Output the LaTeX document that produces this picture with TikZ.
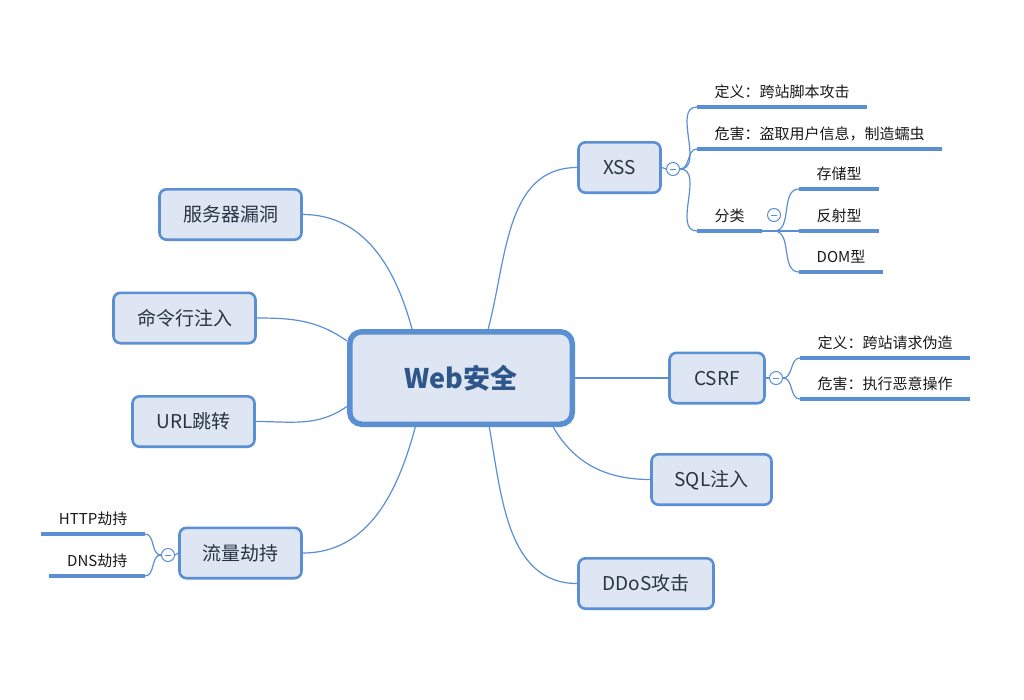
\documentclass[tikz,border=0pt]{standalone}
\usepackage{fontspec}
\newfontfamily\cjk{Noto Sans CJK SC}
\definecolor{mmline}{RGB}{91,143,212}
\definecolor{mmfill}{RGB}{221,230,242}
\definecolor{mmtext}{RGB}{40,52,68}
\definecolor{mmhead}{RGB}{47,86,138}

\begin{document}
\begin{tikzpicture}[x=1pt,y=1pt,
  topic/.style={draw=mmline,fill=mmfill,line width=2.6pt,rounded corners=7pt,text=mmtext,
    font=\cjk\fontsize{19}{22}\selectfont,minimum height=50.4pt,text height=16pt,text depth=1.4pt,inner xsep=0pt},
  root/.style={topic,line width=5.5pt,rounded corners=12pt,text=mmhead,
    font=\cjk\bfseries\fontsize{27}{30}\selectfont,minimum width=222.5pt,minimum height=92.5pt,text height=22pt,text depth=1pt},
  leaf/.style={inner xsep=17.5pt,inner ysep=0pt,minimum height=30pt,text height=12.6pt,text depth=1pt,
    font=\cjk\fontsize{15}{18}\selectfont,text=black!90},
  uline/.style={mmline,line width=4pt},
  link/.style={mmline,line width=1.2pt},
  fold/.style={circle,draw=mmline,fill=white,line width=1pt,minimum size=13pt,inner sep=0pt,
    path picture={\draw[mmline,line width=1pt] ([xshift=-3pt]path picture bounding box.center) -- ([xshift=3pt]path picture bounding box.center);}}]
\useasboundingbox (0,0) rectangle (1024,-699);
\node[root]                      (web)  at (461,-378)   {Web安全};
\node[topic,minimum width=82pt]  (xss)  at (619.5,-167.5) {XSS};
\node[topic,minimum width=142pt] (srv)  at (230.5,-214.5) {服务器漏洞};
\node[topic,minimum width=142pt] (cmd)  at (184.5,-318)   {命令行注入};
\node[topic,minimum width=122pt] (url)  at (193.5,-421.5) {URL跳转};
\node[topic,minimum width=122pt] (flow) at (240.5,-553)   {流量劫持};
\node[topic,minimum width=95pt]  (csrf) at (717,-378)     {CSRF};
\node[topic,minimum width=120pt] (sql)  at (711.5,-479.5) {SQL注入};
\node[topic,minimum width=135pt] (ddos) at (646,-583.5)   {DDoS攻击};
\node[leaf,anchor=south west] (xdef)  at (697,-107) {定义：跨站脚本攻击};
\node[leaf,anchor=south west] (xharm) at (697,-149) {危害：盗取用户信息，制造蠕虫};
\node[leaf,anchor=south west] (xcls)  at (697,-231) {分类};
\node[leaf,anchor=south west] (xsto)  at (799,-189) {存储型};
\node[leaf,anchor=south west] (xref)  at (799,-231) {反射型};
\node[leaf,anchor=south west] (xdom)  at (799,-272) {DOM型};
\node[leaf,anchor=south west] (cdef)  at (800,-358) {定义：跨站请求伪造};
\node[leaf,anchor=south west] (charm) at (800,-399) {危害：执行恶意操作};
\node[leaf,anchor=south east] (http)  at (145,-534) {HTTP劫持};
\node[leaf,anchor=south east] (dns)   at (145,-576) {DNS劫持};
\coordinate (xclsj) at (774,-231);
\foreach \n in {xdef,xharm,xcls,xsto,xref,xdom,cdef,charm,http,dns}
  \draw[uline] (\n.south west) -- (\n.south east);
\draw[link] (web.135) to[out=105,in=0]   (srv.east);
\draw[link] (web.61)  to[out=75,in=180]  (xss.west);
\draw[link] (web.162) to[out=145,in=0]   (cmd.east);
\draw[link] (web.194) to[out=215,in=0]   (url.east);
\draw[link] (web.227) to[out=255,in=0]   (flow.east);
\draw[link] (web.300) to[out=280,in=180] (ddos.west);
\draw[link] (web.332) to[out=300,in=180] (sql.west);
\draw[link] (web.east) -- (csrf.west);
\draw[link] (xcls.south east) -- (xref.south west);
\draw[link] (xclsj) to[out=0,in=180] (xsto.south west);
\draw[link] (xclsj) to[out=0,in=180] (xdom.south west);
\node[fold] (xssf)  at (673,-169) {};
\node[fold] (csrff) at (776,-378) {};
\node[fold] (flowf) at (168,-555) {};
\node[fold] (xclsf) at (774,-215) {};
\draw[link] (xss.east)  -- (xssf.west);
\draw[link] (csrf.east) -- (csrff.west);
\draw[link] (flow.west) -- (flowf.east);
\draw[link] (xssf.east)  to[out=0,in=180] (xdef.south west);
\draw[link] (xssf.east)  to[out=0,in=180] (xharm.south west);
\draw[link] (xssf.east)  to[out=0,in=180] (xcls.south west);
\draw[link] (csrff.east) to[out=0,in=180] (cdef.south west);
\draw[link] (csrff.east) to[out=0,in=180] (charm.south west);
\draw[link] (flowf.west) to[out=180,in=0] (http.south east);
\draw[link] (flowf.west) to[out=180,in=0] (dns.south east);
\end{tikzpicture}
\end{document}
